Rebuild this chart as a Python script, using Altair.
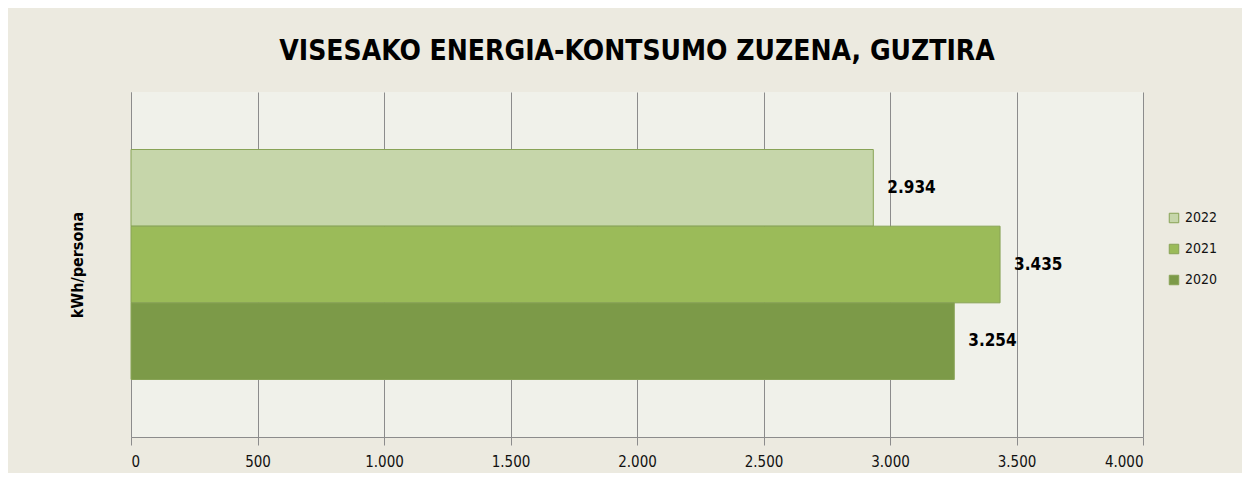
import altair as alt
import pandas as pd

years = ["2022", "2021", "2020"]
values = [2934, 3435, 3254]
colors = ["#C6D6AA", "#9BBB59", "#7C9A48"]
x_ticks = [0, 500, 1000, 1500, 2000, 2500, 3000, 3500, 4000]

FONT = "DejaVu Sans Condensed, Liberation Sans"

df = pd.DataFrame({"year": years, "value": values})

base = alt.Chart(df).encode(
    y=alt.Y("year:N", sort=years,
            scale=alt.Scale(paddingInner=0, paddingOuter=0.75),
            axis=alt.Axis(title="kWh/persona", labels=False, ticks=False,
                          domainColor="#8C8C8C", titleFontSize=16,
                          titleFont=FONT, titleFontWeight="bold",
                          titleColor="#000000", titlePadding=46)),
)

bars = base.mark_bar(stroke="#88A356", strokeWidth=1).encode(
    x=alt.X("value:Q", scale=alt.Scale(domain=[0, 4000], nice=False),
            axis=alt.Axis(values=x_ticks, title=None,
                          labelExpr="replace(format(datum.value, ','), ',', '.')",
                          gridColor="#8C8C8C", gridWidth=1, domainColor="#8C8C8C",
                          tickColor="#8C8C8C", tickSize=8, labelPadding=9,
                          labelFont=FONT, labelFontSize=15, labelColor="#111111")),
    color=alt.Color("year:N", sort=years,
                    scale=alt.Scale(domain=years, range=colors),
                    legend=alt.Legend(title=None, orient="none", legendX=1036,
                                      legendY=119, symbolType="square",
                                      symbolSize=90, symbolStrokeColor="#88A356",
                                      symbolStrokeWidth=1, labelFontSize=14,
                                      labelFont=FONT, labelColor="#111111",
                                      rowPadding=17, labelOffset=4)),
)

labels = base.mark_text(align="left", dx=14, fontWeight="bold", fontSize=17,
                        font=FONT, color="#000000").encode(
    x="value:Q",
    text=alt.Text("label:N"),
).transform_calculate(
    label="replace(format(datum.value, ','), ',', '.')"
)

chart = (bars + labels).properties(
    width=1012, height=345,
    title=alt.Title("VISESAKO ENERGIA-KONTSUMO ZUZENA, GUZTIRA",
                    font=FONT, fontSize=28, fontWeight="bold", color="#000000",
                    offset=26, anchor="middle"),
    autosize=alt.AutoSizeParams(type="none"),
    padding={"left": 123, "top": 84, "right": 99, "bottom": 36},
    background="#ECEAE0",
).configure_view(fill="#F0F1EA", stroke=None)

chart.save("out.html", embed_options={"renderer": "svg", "actions": False})
